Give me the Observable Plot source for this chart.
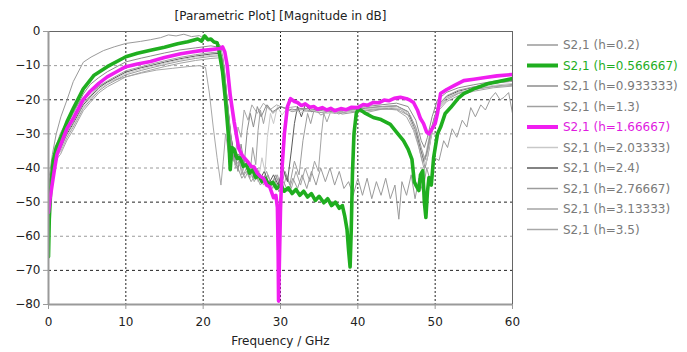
<!DOCTYPE html>
<html><head><meta charset="utf-8">
<script src="https://cdn.jsdelivr.net/npm/d3@7"></script>
<script src="https://cdn.jsdelivr.net/npm/@observablehq/plot@0.6"></script>
<style>
body{margin:0;background:#fff;}
#wrap{position:relative;width:687px;height:352px;}
</style></head><body><div id="wrap"></div>
<script>
const title = "[Parametric Plot] [Magnitude in dB]";
const xLabel = "Frequency / GHz";
const xTicks = [0,10,20,30,40,50,60];
const yTicks = [-80,-70,-60,-50,-40,-30,-20,-10,0];
const gridX = [10,20,30,40,50];
const gridYDark = [-20,-50,-70];
const gridYLight = [-10,-30,-40,-60];

const legendLabels = ["S2,1 (h=0.2)","S2,1 (h=0.566667)","S2,1 (h=0.933333)","S2,1 (h=1.3)","S2,1 (h=1.66667)","S2,1 (h=2.03333)","S2,1 (h=2.4)","S2,1 (h=2.76667)","S2,1 (h=3.13333)","S2,1 (h=3.5)"];

// [frequency GHz, magnitude dB]
const h0200 = [[0,-44],[0.5,-36],[1,-30],[1.6,-25],[2.4,-20],[3.2,-14.7],[4.5,-9],[5.5,-7.5],[7.1,-5.6],[8.5,-4.5],[10,-3.5],[11.9,-2.9],[13.2,-2.4],[14.5,-1.8],[15.5,-1],[16.5,-1.3],[17.5,-0.8],[18.5,-1.5],[19.5,-1.2],[20.5,-2.5],[21.5,-3],[22.2,-4],[22.6,-8],[23,-18],[23.5,-30],[24,-38],[24.5,-40],[25,-43],[25.6,-41],[26.2,-44],[26.8,-42],[27.4,-45],[28,-43],[28.6,-46],[29.2,-43],[29.8,-47],[30.4,-44],[31,-47],[31.6,-43],[32.2,-46],[32.8,-42],[33.4,-46],[34,-41],[34.6,-45],[35.2,-40],[35.8,-44],[36.4,-40],[37,-45],[37.6,-41],[38.2,-46],[38.8,-44],[39.4,-48],[40,-43],[40.6,-48],[41.2,-43],[41.8,-49],[42.4,-44],[43,-48],[43.6,-43],[44.2,-49],[44.8,-45],[45.3,-55],[45.7,-44],[46.3,-48],[46.9,-42],[47.4,-49],[47.9,-43],[48.4,-47],[48.9,-40],[49.4,-44],[49.9,-37],[50.5,-37.8],[51.1,-32],[51.6,-34],[52.2,-28.5],[52.8,-31],[53.5,-26],[54.1,-28],[54.6,-22.3],[55.2,-25],[55.9,-21.5],[56.5,-23],[57.2,-19.5],[57.8,-17.9],[58.4,-20],[58.9,-19.3],[59.5,-17.9],[60,-24]];
const h0567 = [[0,-66],[0.1,-55],[0.3,-46],[0.6,-38],[1,-34],[1.55,-31.4],[2.4,-26.4],[3.2,-22.6],[4.5,-16.8],[5.9,-12.8],[7.6,-10.3],[10,-7.4],[11.5,-6.4],[13.2,-5.5],[15,-4.6],[16.7,-3.6],[18,-3],[19.3,-2.2],[19.8,-2.8],[20.2,-1.3],[20.6,-2.4],[21,-2.2],[21.4,-3.1],[21.8,-3.3],[22,-5],[22.5,-11.7],[22.9,-20.5],[23.3,-31.4],[23.5,-40.5],[23.7,-34],[24,-34.5],[24.4,-37.2],[24.8,-37],[25.2,-39.5],[25.6,-39],[26,-41.5],[26.4,-40.5],[26.8,-42.8],[27.2,-42],[27.6,-44],[28,-43],[28.5,-45],[29,-44.2],[29.5,-46],[30,-45],[30.5,-46.8],[31,-45.8],[31.5,-47.5],[32,-46.3],[32.5,-48],[33,-46.8],[33.5,-48.5],[34,-47.5],[34.5,-49.5],[35,-48.3],[35.6,-50.2],[36.1,-49],[36.6,-51],[37.1,-50],[37.6,-51.8],[38,-51],[38.3,-54],[38.6,-58],[38.8,-64],[39,-69],[39.15,-58],[39.3,-42],[39.5,-30],[39.8,-24],[40.1,-22.6],[41,-24],[42,-25.2],[43,-25.8],[44.2,-27.2],[45,-29.5],[45.9,-32],[46.5,-34.5],[47,-37.5],[47.3,-44],[47.5,-45],[47.9,-46.6],[48.1,-42],[48.4,-40.8],[48.6,-50],[48.8,-54.5],[49,-47],[49.2,-42.8],[49.5,-45],[49.8,-37],[50.3,-30],[50.7,-28],[51.3,-24],[52,-22.3],[53,-19.5],[53.7,-18.2],[55,-16.8],[56.8,-15.3],[58.5,-14.5],[60,-13.8]];
const h0933 = [[0,-45],[0.5,-39],[1,-35],[1.55,-32.3],[2.4,-27.4],[3.2,-24],[4.5,-18.3],[5.4,-15.5],[6.5,-13.5],[7.6,-11.8],[10,-8.9],[12,-7.8],[13.2,-7.2],[15,-6.3],[17,-5.4],[19,-4.8],[21,-4.2],[22,-4.6],[22.5,-8],[22.9,-18],[23.3,-30],[23.7,-38],[24.1,-35],[24.5,-41],[24.9,-33],[25.3,-39],[25.7,-29],[26.1,-24],[26.5,-28],[27,-22],[27.5,-25],[28.2,-21.5],[29,-23.5],[30,-22],[31.5,-23],[33,-22.5],[35,-23],[37,-22.8],[39,-22.8],[41,-22],[43,-21.5],[45,-21],[46.5,-22],[47.5,-26],[48.2,-32],[48.6,-34],[49,-31],[49.6,-25],[50.3,-20],[51.5,-17.8],[53,-16.5],[55,-15.6],[57.5,-14.6],[60,-13.8]];
const h1300 = [[0,-46],[0.5,-40],[1,-36],[1.55,-34],[2.4,-29.5],[3.2,-26.5],[4.5,-21],[5.4,-18.8],[6.5,-16],[7.6,-14.5],[10,-11.5],[12,-10.3],[13.2,-9.6],[15,-8.6],[17,-7.6],[19,-6.8],[21,-6.2],[22.2,-6],[22.7,-10],[23.1,-20],[23.5,-31],[24,-38],[24.5,-36],[25,-42],[25.5,-37],[26,-43],[26.4,-34],[26.8,-39],[27.1,-29],[27.4,-23],[27.8,-27],[28.3,-21.5],[29,-24],[30,-22],[31.5,-23.5],[33,-22.8],[35,-23.8],[37,-23.2],[39,-23],[41,-22.4],[43,-22],[45,-21.8],[46.5,-23.5],[47.5,-28],[48.2,-34],[48.7,-37.5],[49.1,-34],[49.7,-27],[50.4,-21.5],[51.5,-18.8],[53,-17.2],[55,-16.2],[57.5,-15.2],[60,-14.6]];
const h1667 = [[0,-53],[0.2,-49],[0.5,-44.5],[0.8,-40],[1.1,-36],[1.55,-33.3],[2.4,-28.4],[3.2,-25.5],[4.5,-19.9],[5.4,-17.5],[6.5,-15.2],[7.6,-13.3],[8.8,-11.8],[10,-10.3],[11.5,-9.5],[13.2,-8.8],[15,-7.6],[17.1,-6.5],[18.5,-6],[19.7,-5.6],[21,-5.3],[22.2,-5],[22.5,-4.5],[22.8,-6],[23.1,-9.9],[23.5,-18.7],[24,-26.4],[24.6,-34.3],[25.1,-36.5],[25.7,-38],[26.2,-39.5],[26.6,-39.8],[27,-41.5],[27.4,-42.5],[27.8,-43],[28.2,-45],[28.6,-45.5],[29.1,-48.7],[29.4,-48],[29.6,-51.6],[29.7,-65],[29.75,-79],[29.85,-68],[30,-52],[30.2,-40],[30.5,-30],[30.9,-22],[31.3,-19.7],[31.8,-20.5],[32.2,-20.8],[32.7,-21.7],[33.2,-21.2],[33.8,-22.2],[34.3,-22],[34.8,-22.8],[35.4,-22.3],[36,-23],[36.5,-22.5],[37,-23.2],[37.8,-22.6],[38.5,-22.9],[39.2,-22.2],[40,-22.3],[40.7,-21.4],[41.3,-21.6],[42,-20.8],[42.7,-20.9],[43.4,-20.1],[44,-20.3],[44.7,-19.6],[45.5,-19.3],[46.3,-19.7],[46.8,-20.2],[47.2,-20.8],[47.7,-23],[48.1,-25.5],[48.5,-27],[48.9,-29.5],[49.2,-30],[49.6,-28.5],[50,-27],[50.3,-24],[50.7,-18.2],[51.5,-17],[52.5,-15.8],[53.7,-14.4],[55,-14],[56.5,-13.5],[58,-13],[60,-12.6]];
const h2033 = [[0,-46.5],[0.5,-41],[1,-37],[1.55,-35],[2.4,-30.5],[3.2,-27.5],[4.5,-22],[5.4,-19.8],[6.5,-17],[7.6,-15.2],[10,-12.3],[12,-11],[13.2,-10.3],[15,-9.3],[17,-8.3],[19,-7.5],[21,-7],[22.2,-6.8],[22.7,-11],[23.1,-21],[23.6,-32],[24.1,-39],[24.6,-37],[25.1,-41],[25.6,-38],[26.1,-43],[26.6,-39],[27.1,-44],[27.6,-37],[28,-41],[28.3,-31],[28.7,-24],[29.1,-27],[29.6,-22],[30.2,-24.5],[31,-22],[32.5,-23.8],[34,-23],[36,-24],[38,-23.5],[40,-23],[42,-22.5],[44,-22.2],[45.5,-22.5],[46.8,-24.5],[47.7,-30],[48.4,-36],[48.8,-39],[49.2,-34],[49.8,-26.5],[50.5,-21.5],[51.5,-19.3],[53,-17.8],[55,-16.8],[57.5,-15.8],[60,-15.2]];
const h2400 = [[0,-45.5],[0.5,-40],[1,-36],[1.55,-34.5],[2.4,-30],[3.2,-27],[4.5,-21.5],[5.4,-19.2],[6.5,-16.5],[7.6,-14.8],[10,-11.9],[12,-10.6],[13.2,-10],[15,-9],[17,-8],[19,-7.2],[21,-6.6],[22.2,-6.4],[22.7,-10.5],[23.1,-20],[23.6,-31],[24.1,-37],[24.6,-36],[25.1,-40],[25.6,-38.5],[26.1,-42],[26.7,-40],[27.3,-43.5],[27.9,-41],[28.5,-44.5],[29.1,-42],[29.7,-45],[30.3,-40],[30.9,-44],[31.4,-35],[31.8,-27],[32.2,-22],[32.7,-25],[33.2,-21.5],[34,-23.5],[35.5,-22.8],[37,-23.8],[39,-23],[41,-22.5],[43,-22],[45,-21.8],[46.5,-23.5],[47.5,-29],[48.2,-35],[48.6,-38],[49,-35],[49.6,-28],[50.3,-22],[51.5,-19],[53,-17.5],[55,-16.3],[57.5,-15.2],[60,-14.4]];
const h2767 = [[0,-46],[0.5,-40.5],[1,-36.5],[1.55,-35.2],[2.4,-31],[3.2,-28],[4.5,-22.5],[5.4,-20.2],[6.5,-17.4],[7.6,-15.6],[10,-12.7],[12,-11.4],[13.2,-10.7],[15,-9.7],[17,-8.7],[19,-7.9],[21,-7.3],[22.2,-7.1],[22.7,-11.5],[23.2,-22],[23.7,-33],[24.2,-39],[24.7,-38],[25.2,-42],[25.8,-39],[26.4,-43],[27,-40],[27.6,-44],[28.2,-41],[28.8,-45],[29.4,-42],[30,-46],[30.6,-41],[31.2,-45],[31.8,-38],[32.4,-42],[32.9,-32],[33.5,-24],[33.9,-27],[34.4,-22.5],[35.2,-24.5],[36.5,-23],[38,-24.2],[40,-23.5],[42,-23],[44,-22.5],[45.5,-22.8],[46.8,-25],[47.7,-30],[48.3,-36],[48.7,-40],[49.1,-36],[49.7,-28],[50.4,-22.5],[51.5,-20],[53,-18.2],[55,-17],[57.5,-16],[60,-15.5]];
const h3133 = [[0,-46.5],[0.5,-41],[1,-37.5],[1.55,-36],[2.4,-31.8],[3.2,-28.8],[4.5,-23.2],[5.4,-20.8],[6.5,-18],[7.6,-16.2],[10,-13.3],[12,-12],[13.2,-11.3],[15,-10.3],[17,-9.3],[19,-8.5],[21,-7.9],[22.2,-7.7],[22.7,-12],[23.2,-23],[23.7,-34],[24.2,-40],[24.8,-39],[25.4,-43],[26,-40],[26.6,-44],[27.2,-41],[27.8,-45],[28.4,-42],[29,-46],[29.6,-42],[30.2,-47],[30.8,-42],[31.4,-46],[32,-41],[32.6,-45],[33.2,-40],[33.8,-44],[34.4,-38],[34.9,-41],[35.3,-30],[35.6,-24],[36,-26.5],[36.6,-22.8],[37.5,-24.2],[39,-23.2],[41,-23.8],[43,-22.8],[45,-22.8],[46.5,-24.5],[47.5,-30],[48.2,-37],[48.6,-40.5],[49,-37],[49.6,-29],[50.3,-23.5],[51.5,-20.5],[53,-18.8],[55,-17.5],[57.5,-16.5],[60,-16]];
const h3500 = [[0,-47],[0.4,-40],[0.9,-34],[1.5,-30],[2.4,-26],[3.2,-23],[4.5,-19.5],[5.4,-17.8],[6.7,-15.8],[7.6,-14.8],[10,-13.3],[12,-12.2],[14,-11.3],[16,-10.8],[18,-10.3],[19.5,-10],[20.3,-10.5],[20.8,-18],[21.3,-28],[21.8,-37],[22.3,-45],[22.6,-38],[22.9,-30],[23.3,-36],[23.7,-32],[24.1,-39],[24.5,-28],[24.9,-31],[25.3,-23],[25.8,-26],[26.3,-21.5],[27,-24],[27.8,-21],[28.6,-23],[29.5,-21.5],[30.5,-22.5],[32,-22],[33.5,-23.5],[35,-23],[37,-24],[39,-23.5],[41,-23],[43,-22.5],[45,-23],[46.3,-25],[47.2,-29],[47.9,-34],[48.4,-38.4],[48.8,-36],[49.3,-30],[49.9,-25],[50.6,-21.5],[51.5,-19.5],[53,-18],[55,-17],[57.5,-16.2],[60,-15.8]];

const seriesData = [h0200,h0567,h0933,h1300,h1667,h2033,h2400,h2767,h3133,h3500];

// styles
const styleOf = [
  {stroke:"#9a9a9a", w:1, text:"#7a7a7a"},
  {stroke:"#1fae1f", w:3.6, text:"#1fae1f"},
  {stroke:"#8c8c8c", w:1, text:"#7a7a7a"},
  {stroke:"#a0a0a0", w:1, text:"#7a7a7a"},
  {stroke:"#f01ef0", w:3.6, text:"#e01ae0"},
  {stroke:"#c8c8c8", w:1, text:"#7a7a7a"},
  {stroke:"#5a5a5a", w:1, text:"#7a7a7a"},
  {stroke:"#9c9c9c", w:1, text:"#7a7a7a"},
  {stroke:"#a4a4a4", w:1, text:"#7a7a7a"},
  {stroke:"#a8a8a8", w:1, text:"#7a7a7a"}
];

const tables = seriesData.map((pts,i)=>pts.map(([f,m])=>({series:legendLabels[i], f, m})));
const drawOrder = [9,8,7,6,5,3,2,0,1,4];

const lineMarks = drawOrder.map(i => Plot.line(tables[i], {
  x:"f", y:"m", stroke: styleOf[i].stroke, strokeWidth: styleOf[i].w,
  strokeLinejoin:"round", clip:true
}));

const font = "'DejaVu Sans', sans-serif";
const chart = Plot.plot({
  width:687, height:352,
  marginLeft:48, marginRight:175, marginTop:31, marginBottom:48,
  style:{fontFamily:font, fontSize:"12px", color:"#222", background:"#fff", overflow:"visible"},
  x:{domain:[0,60]},
  y:{domain:[-80,0]},
  marks:[
    Plot.ruleY(gridYLight,{y:d=>d, stroke:"#9a9a9a", strokeDasharray:"3,3"}),
    Plot.ruleY(gridYDark,{y:d=>d, stroke:"#222", strokeDasharray:"3,3"}),
    Plot.ruleX(gridX,{x:d=>d, stroke:"#222", strokeDasharray:"2,2"}),
    Plot.frame({stroke:"#666"}),
    ...lineMarks,
    Plot.ruleX([0],{stroke:"#9a9a9a", strokeWidth:2}),
    Plot.ruleY([-80],{stroke:"#9a9a9a", strokeWidth:2}),
    Plot.axisX({ticks:xTicks, tickSize:5, tickPadding:8, stroke:"#9a9a9a", label:null, fill:"#222"}),
    Plot.axisY({ticks:yTicks, tickSize:5, tickPadding:3, stroke:"#9a9a9a", label:null, fill:"#222"}),
    Plot.text([xLabel],{frameAnchor:"bottom", dy:40, text:d=>d, fontSize:12, fill:"#222"}),
    Plot.text([title],{frameAnchor:"top", dy:-20, text:d=>d, fontSize:12, fill:"#222"})
  ]
});
document.getElementById("wrap").appendChild(chart);

// legend
const svg = d3.select(chart);
const lg = svg.append("g").attr("font-family", font).attr("font-size", 12).attr("text-anchor","start");
legendLabels.forEach((lab,i)=>{
  const y = 45 + i*20.5;
  lg.append("line").attr("x1",527).attr("x2",558).attr("y1",y).attr("y2",y)
    .attr("stroke", styleOf[i].stroke).attr("stroke-width", styleOf[i].w>2 ? 4 : 1.5);
  lg.append("text").attr("x",563).attr("y",y).attr("dy","0.35em").attr("text-anchor","start")
    .attr("fill", styleOf[i].text).text(lab);
});
</script></body></html>
